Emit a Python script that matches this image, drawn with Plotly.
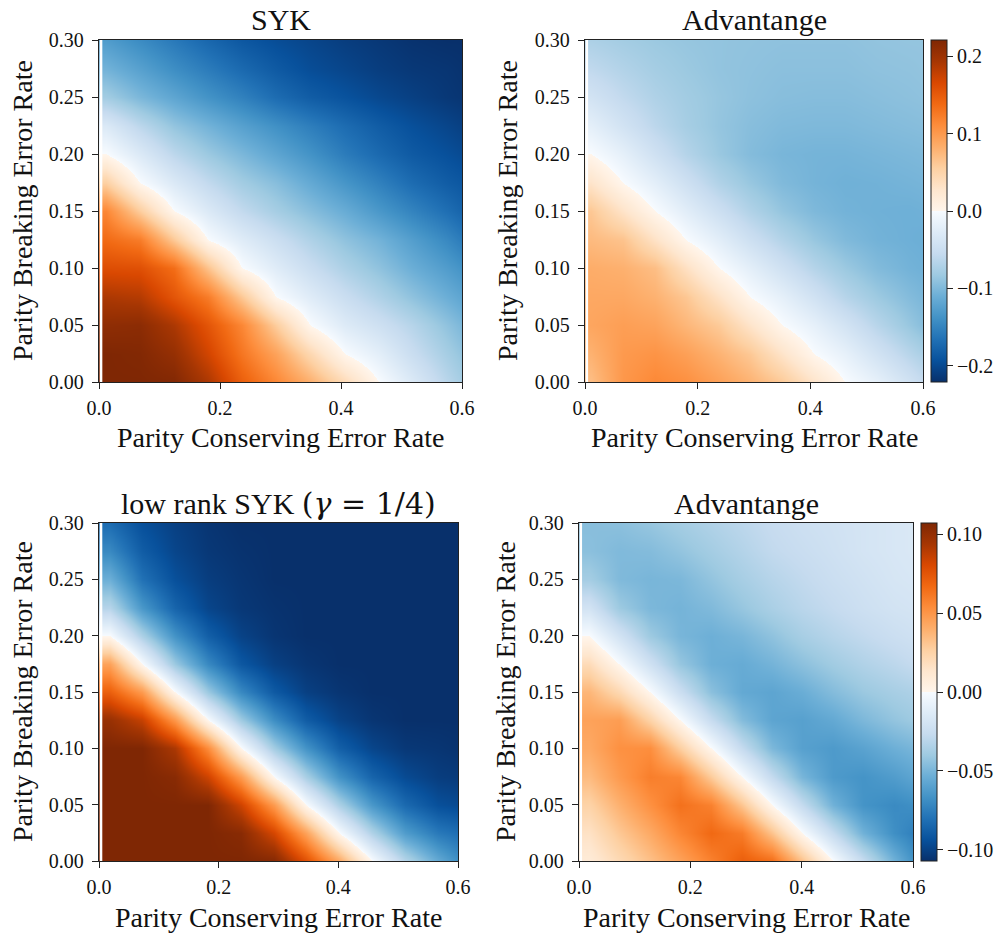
import plotly.graph_objects as go

# ---------------- data ----------------
# sample columns are placed where the sign change crosses each row
X_NODES_SYK = [0.011, 0.068, 0.124, 0.180, 0.237, 0.293, 0.349, 0.406, 0.462, 0.518, 0.575, 0.600]
X_NODES_LOW = [0.018, 0.072, 0.127, 0.182, 0.237, 0.292, 0.346, 0.401, 0.456, 0.511, 0.566, 0.600]
Y_NODES = [0.0, 0.025, 0.05, 0.075, 0.10, 0.125, 0.15, 0.175, 0.20, 0.225, 0.25, 0.275, 0.30]

# rows: y = 0.00 ... 0.30
SYK = [
    [1.00, 1.00, 0.99, 0.86, 0.66, 0.52, 0.37, 0.19, 0.00, -0.14, -0.29, -0.35],
    [1.00, 0.99, 0.93, 0.77, 0.58, 0.42, 0.21, 0.00, -0.10, -0.23, -0.35, -0.40],
    [0.95, 0.96, 0.86, 0.70, 0.52, 0.26, 0.00, -0.13, -0.21, -0.30, -0.41, -0.46],
    [0.86, 0.84, 0.70, 0.56, 0.28, 0.00, -0.12, -0.23, -0.32, -0.41, -0.50, -0.54],
    [0.73, 0.72, 0.61, 0.30, 0.00, -0.12, -0.23, -0.33, -0.41, -0.50, -0.58, -0.62],
    [0.62, 0.56, 0.28, 0.00, -0.12, -0.22, -0.32, -0.41, -0.48, -0.57, -0.66, -0.71],
    [0.52, 0.26, 0.00, -0.14, -0.26, -0.35, -0.43, -0.51, -0.60, -0.68, -0.76, -0.80],
    [0.25, 0.00, -0.14, -0.26, -0.36, -0.43, -0.52, -0.61, -0.69, -0.77, -0.83, -0.85],
    [0.00, -0.14, -0.28, -0.38, -0.46, -0.54, -0.62, -0.71, -0.78, -0.84, -0.88, -0.90],
    [-0.14, -0.28, -0.40, -0.48, -0.56, -0.63, -0.70, -0.77, -0.83, -0.88, -0.92, -0.94],
    [-0.36, -0.46, -0.54, -0.62, -0.69, -0.77, -0.83, -0.87, -0.91, -0.94, -0.97, -0.98],
    [-0.48, -0.56, -0.64, -0.71, -0.78, -0.84, -0.89, -0.92, -0.95, -0.97, -0.98, -0.99],
    [-0.58, -0.65, -0.72, -0.79, -0.85, -0.89, -0.92, -0.95, -0.97, -0.99, -1.00, -1.00],
]

ADV_SYK = [
    [0.070, 0.102, 0.114, 0.108, 0.094, 0.079, 0.060, 0.030, 0.000, -0.019, -0.043, -0.055],
    [0.080, 0.100, 0.105, 0.095, 0.079, 0.062, 0.031, 0.000, -0.018, -0.042, -0.065, -0.074],
    [0.090, 0.096, 0.092, 0.076, 0.060, 0.030, 0.000, -0.019, -0.041, -0.065, -0.086, -0.095],
    [0.088, 0.088, 0.080, 0.063, 0.032, 0.000, -0.020, -0.043, -0.066, -0.083, -0.097, -0.102],
    [0.084, 0.081, 0.070, 0.035, 0.000, -0.022, -0.045, -0.067, -0.084, -0.098, -0.106, -0.108],
    [0.073, 0.066, 0.033, 0.000, -0.023, -0.047, -0.068, -0.086, -0.099, -0.106, -0.109, -0.110],
    [0.062, 0.031, 0.000, -0.024, -0.048, -0.070, -0.088, -0.100, -0.106, -0.108, -0.109, -0.108],
    [0.030, 0.000, -0.022, -0.046, -0.070, -0.086, -0.099, -0.105, -0.108, -0.107, -0.105, -0.104],
    [0.000, -0.020, -0.045, -0.067, -0.085, -0.097, -0.103, -0.105, -0.105, -0.103, -0.101, -0.100],
    [-0.021, -0.042, -0.062, -0.077, -0.088, -0.095, -0.099, -0.100, -0.100, -0.098, -0.096, -0.095],
    [-0.042, -0.058, -0.071, -0.080, -0.087, -0.092, -0.095, -0.096, -0.096, -0.094, -0.092, -0.091],
    [-0.059, -0.069, -0.078, -0.084, -0.089, -0.091, -0.093, -0.093, -0.093, -0.091, -0.090, -0.089],
    [-0.073, -0.079, -0.084, -0.087, -0.089, -0.090, -0.091, -0.091, -0.091, -0.089, -0.088, -0.088],
]

LOW_RANK = [
    [1.00, 1.00, 1.00, 1.00, 1.00, 0.98, 0.72, 0.40, 0.00, -0.30, -0.52, -0.63],
    [1.00, 1.00, 1.00, 1.00, 0.97, 0.76, 0.42, 0.00, -0.32, -0.58, -0.72, -0.76],
    [1.00, 1.00, 1.00, 1.00, 0.78, 0.45, 0.00, -0.33, -0.60, -0.78, -0.88, -0.90],
    [1.00, 1.00, 0.97, 0.78, 0.45, 0.00, -0.34, -0.62, -0.80, -0.90, -0.95, -0.96],
    [1.00, 1.00, 0.86, 0.50, 0.00, -0.36, -0.62, -0.82, -0.92, -0.97, -0.98, -0.99],
    [0.92, 0.80, 0.46, 0.00, -0.37, -0.64, -0.83, -0.93, -0.98, -1.00, -1.00, -1.00],
    [0.66, 0.45, 0.00, -0.38, -0.66, -0.84, -0.94, -0.98, -1.00, -1.00, -1.00, -1.00],
    [0.42, 0.00, -0.38, -0.66, -0.85, -0.94, -0.98, -1.00, -1.00, -1.00, -1.00, -1.00],
    [0.00, -0.33, -0.62, -0.82, -0.93, -0.98, -1.00, -1.00, -1.00, -1.00, -1.00, -1.00],
    [-0.30, -0.60, -0.80, -0.92, -0.97, -0.99, -1.00, -1.00, -1.00, -1.00, -1.00, -1.00],
    [-0.50, -0.75, -0.88, -0.95, -0.98, -1.00, -1.00, -1.00, -1.00, -1.00, -1.00, -1.00],
    [-0.66, -0.83, -0.92, -0.97, -0.99, -1.00, -1.00, -1.00, -1.00, -1.00, -1.00, -1.00],
    [-0.77, -0.88, -0.94, -0.98, -1.00, -1.00, -1.00, -1.00, -1.00, -1.00, -1.00, -1.00],
]

ADV_LOW_RANK = [
    [0.009, 0.021, 0.033, 0.045, 0.058, 0.071, 0.065, 0.033, 0.000, -0.026, -0.052, -0.066],
    [0.016, 0.030, 0.042, 0.056, 0.067, 0.060, 0.032, 0.000, -0.027, -0.052, -0.068, -0.074],
    [0.025, 0.039, 0.052, 0.064, 0.058, 0.031, 0.000, -0.027, -0.052, -0.066, -0.070, -0.068],
    [0.035, 0.048, 0.059, 0.056, 0.029, 0.000, -0.027, -0.050, -0.063, -0.066, -0.062, -0.058],
    [0.042, 0.052, 0.053, 0.027, 0.000, -0.027, -0.049, -0.060, -0.063, -0.059, -0.053, -0.050],
    [0.045, 0.047, 0.025, 0.000, -0.026, -0.047, -0.058, -0.060, -0.056, -0.049, -0.043, -0.040],
    [0.037, 0.022, 0.000, -0.024, -0.045, -0.056, -0.058, -0.054, -0.047, -0.041, -0.037, -0.035],
    [0.020, 0.000, -0.022, -0.042, -0.053, -0.055, -0.051, -0.045, -0.039, -0.034, -0.030, -0.027],
    [0.000, -0.020, -0.040, -0.050, -0.053, -0.050, -0.044, -0.037, -0.032, -0.028, -0.024, -0.022],
    [-0.020, -0.040, -0.049, -0.051, -0.048, -0.042, -0.036, -0.031, -0.027, -0.023, -0.020, -0.019],
    [-0.038, -0.048, -0.050, -0.049, -0.043, -0.037, -0.032, -0.028, -0.024, -0.021, -0.018, -0.017],
    [-0.045, -0.048, -0.047, -0.043, -0.038, -0.033, -0.028, -0.025, -0.022, -0.019, -0.017, -0.016],
    [-0.046, -0.045, -0.042, -0.038, -0.034, -0.030, -0.026, -0.023, -0.021, -0.019, -0.017, -0.016],
]

TITLES = ["SYK", "Advantange",
          "low rank SYK <span style=\"font-family:'DejaVu Serif'\">(<i>γ</i> = 1/4)</span>",
          "Advantange"]
X_LABEL = "Parity Conserving Error Rate"
Y_LABEL = "Parity Breaking Error Rate"
X_TICKS = [0.0, 0.2, 0.4, 0.6]
Y_TICKS = [0.0, 0.05, 0.10, 0.15, 0.20, 0.25, 0.30]
CB_TICKS_TOP = [-0.2, -0.1, 0.0, 0.1, 0.2]
CB_TICKS_BOTTOM = [-0.10, -0.05, 0.0, 0.05, 0.10]
DATA_X_START = 0.0055   # first simulated error rate (white strip left of it)

# ---------------- styling ----------------
OFF = 8                      # page body margin of the viewer
W, H = 1003 - OFF, 935 - OFF
FONT = "Liberation Serif, Times New Roman, serif"
INK = "#222222"

def fx(px):
    return (px - OFF) / W

def fy(py):
    return 1 - (py - OFF) / H

# Blues (reversed) for negatives, Oranges for positives (matplotlib palettes)
BLUES = ["#08306b", "#08519c", "#2171b5", "#4292c6", "#6baed6", "#9ecae1", "#c6dbef", "#deebf7", "#f7fbff"]
ORANGES = ["#fff5eb", "#fee6ce", "#fdd0a2", "#fdae6b", "#fd8d3c", "#f16913", "#d94801", "#a63603", "#7f2704"]
COLORSCALE = [[i * 0.0625, c] for i, c in enumerate(BLUES)] + \
             [[0.5 + i * 0.0625, c] for i, c in enumerate(ORANGES)]

# pixel boxes (in the 1003x935 window) of the four plot areas: (left, right, top, bottom)
BOXES = [(99, 462, 40, 382), (585, 923, 40, 382), (99, 458, 523, 861), (579, 913, 523, 861)]
CBARS = [None, (931, 40, 382, CB_TICKS_TOP, ".1f"), None, (921, 523, 861, CB_TICKS_BOTTOM, ".2f")]
Z_DATA = [SYK, ADV_SYK, LOW_RANK, ADV_LOW_RANK]
X_DATA = [X_NODES_SYK, X_NODES_SYK, X_NODES_LOW, X_NODES_LOW]
Z_LIM = [1.0, 0.221, 1.0, 0.107]
YLABEL_X = [22, 507, 22, 505]

fig = go.Figure()
annotations = []
shapes = []
for k in range(4):
    l, r, t, b = BOXES[k]
    sfx = "" if k == 0 else str(k + 1)
    trace = dict(
        z=Z_DATA[k], x=X_DATA[k], y=Y_NODES, zsmooth="best",
        colorscale=COLORSCALE, zmin=-Z_LIM[k], zmax=Z_LIM[k],
        xaxis="x" + sfx, yaxis="y" + sfx, hoverinfo="skip",
        showscale=CBARS[k] is not None,
    )
    if CBARS[k] is not None:
        cx, ct, cb, tv, tf = CBARS[k]
        trace["colorbar"] = dict(
            x=fx(cx), xanchor="left", xpad=0, ypad=0,
            y=fy((ct + cb) / 2), yanchor="middle",
            len=(cb - ct) / H, lenmode="fraction",
            thickness=16, thicknessmode="pixels",
            outlinewidth=1, outlinecolor=INK,
            tickvals=tv, tickformat=tf, ticks="outside", ticklen=6,
            tickwidth=1.2, tickcolor=INK,
            tickfont=dict(family=FONT, size=20, color="#111"),
        )
    fig.add_trace(go.Heatmap(**trace))

    axis_common = dict(showgrid=False, zeroline=False, showline=True, mirror=True,
                       linecolor=INK, linewidth=1.3, ticks="outside", ticklen=6,
                       tickwidth=1.3, tickcolor=INK, automargin=False,
                       tickfont=dict(family=FONT, size=20, color="#111"))
    fig.update_layout(**{
        "xaxis" + sfx: dict(domain=[fx(l), fx(r)], anchor="y" + sfx, range=[0, 0.6],
                            tickvals=X_TICKS, tickformat=".1f", ticklabelstandoff=2, **axis_common),
        "yaxis" + sfx: dict(domain=[fy(b), fy(t)], anchor="x" + sfx, range=[0, 0.3],
                            tickvals=Y_TICKS, tickformat=".2f", ticklabelstandoff=4, **axis_common),
    })
    shapes.append(dict(type="rect", xref="x" + sfx, yref="y" + sfx, x0=0.0012, x1=DATA_X_START,
                       y0=0, y1=0.3, fillcolor="white", line=dict(width=0), layer="above"))

    cxp = (l + r) / 2
    annotations.append(dict(text=TITLES[k], x=fx(cxp), y=fy(t - 20), xref="paper", yref="paper",
                            xanchor="center", yanchor="middle", showarrow=False,
                            font=dict(family=FONT, size=30, color="#111")))
    annotations.append(dict(text=X_LABEL, x=fx(cxp), y=fy(b + 56), xref="paper", yref="paper",
                            xanchor="center", yanchor="middle", showarrow=False,
                            font=dict(family=FONT, size=28, color="#111")))
    annotations.append(dict(text=Y_LABEL, x=fx(YLABEL_X[k]), y=fy((t + b) / 2), xref="paper",
                            yref="paper", xanchor="center", yanchor="middle", showarrow=False,
                            textangle=-90, font=dict(family=FONT, size=28, color="#111")))

fig.update_layout(
    width=W, height=H, margin=dict(l=0, r=0, t=0, b=0, pad=0, autoexpand=False),
    paper_bgcolor="white", plot_bgcolor="white",
    annotations=annotations, shapes=shapes, showlegend=False,
)

fig.write_html("out.html")
